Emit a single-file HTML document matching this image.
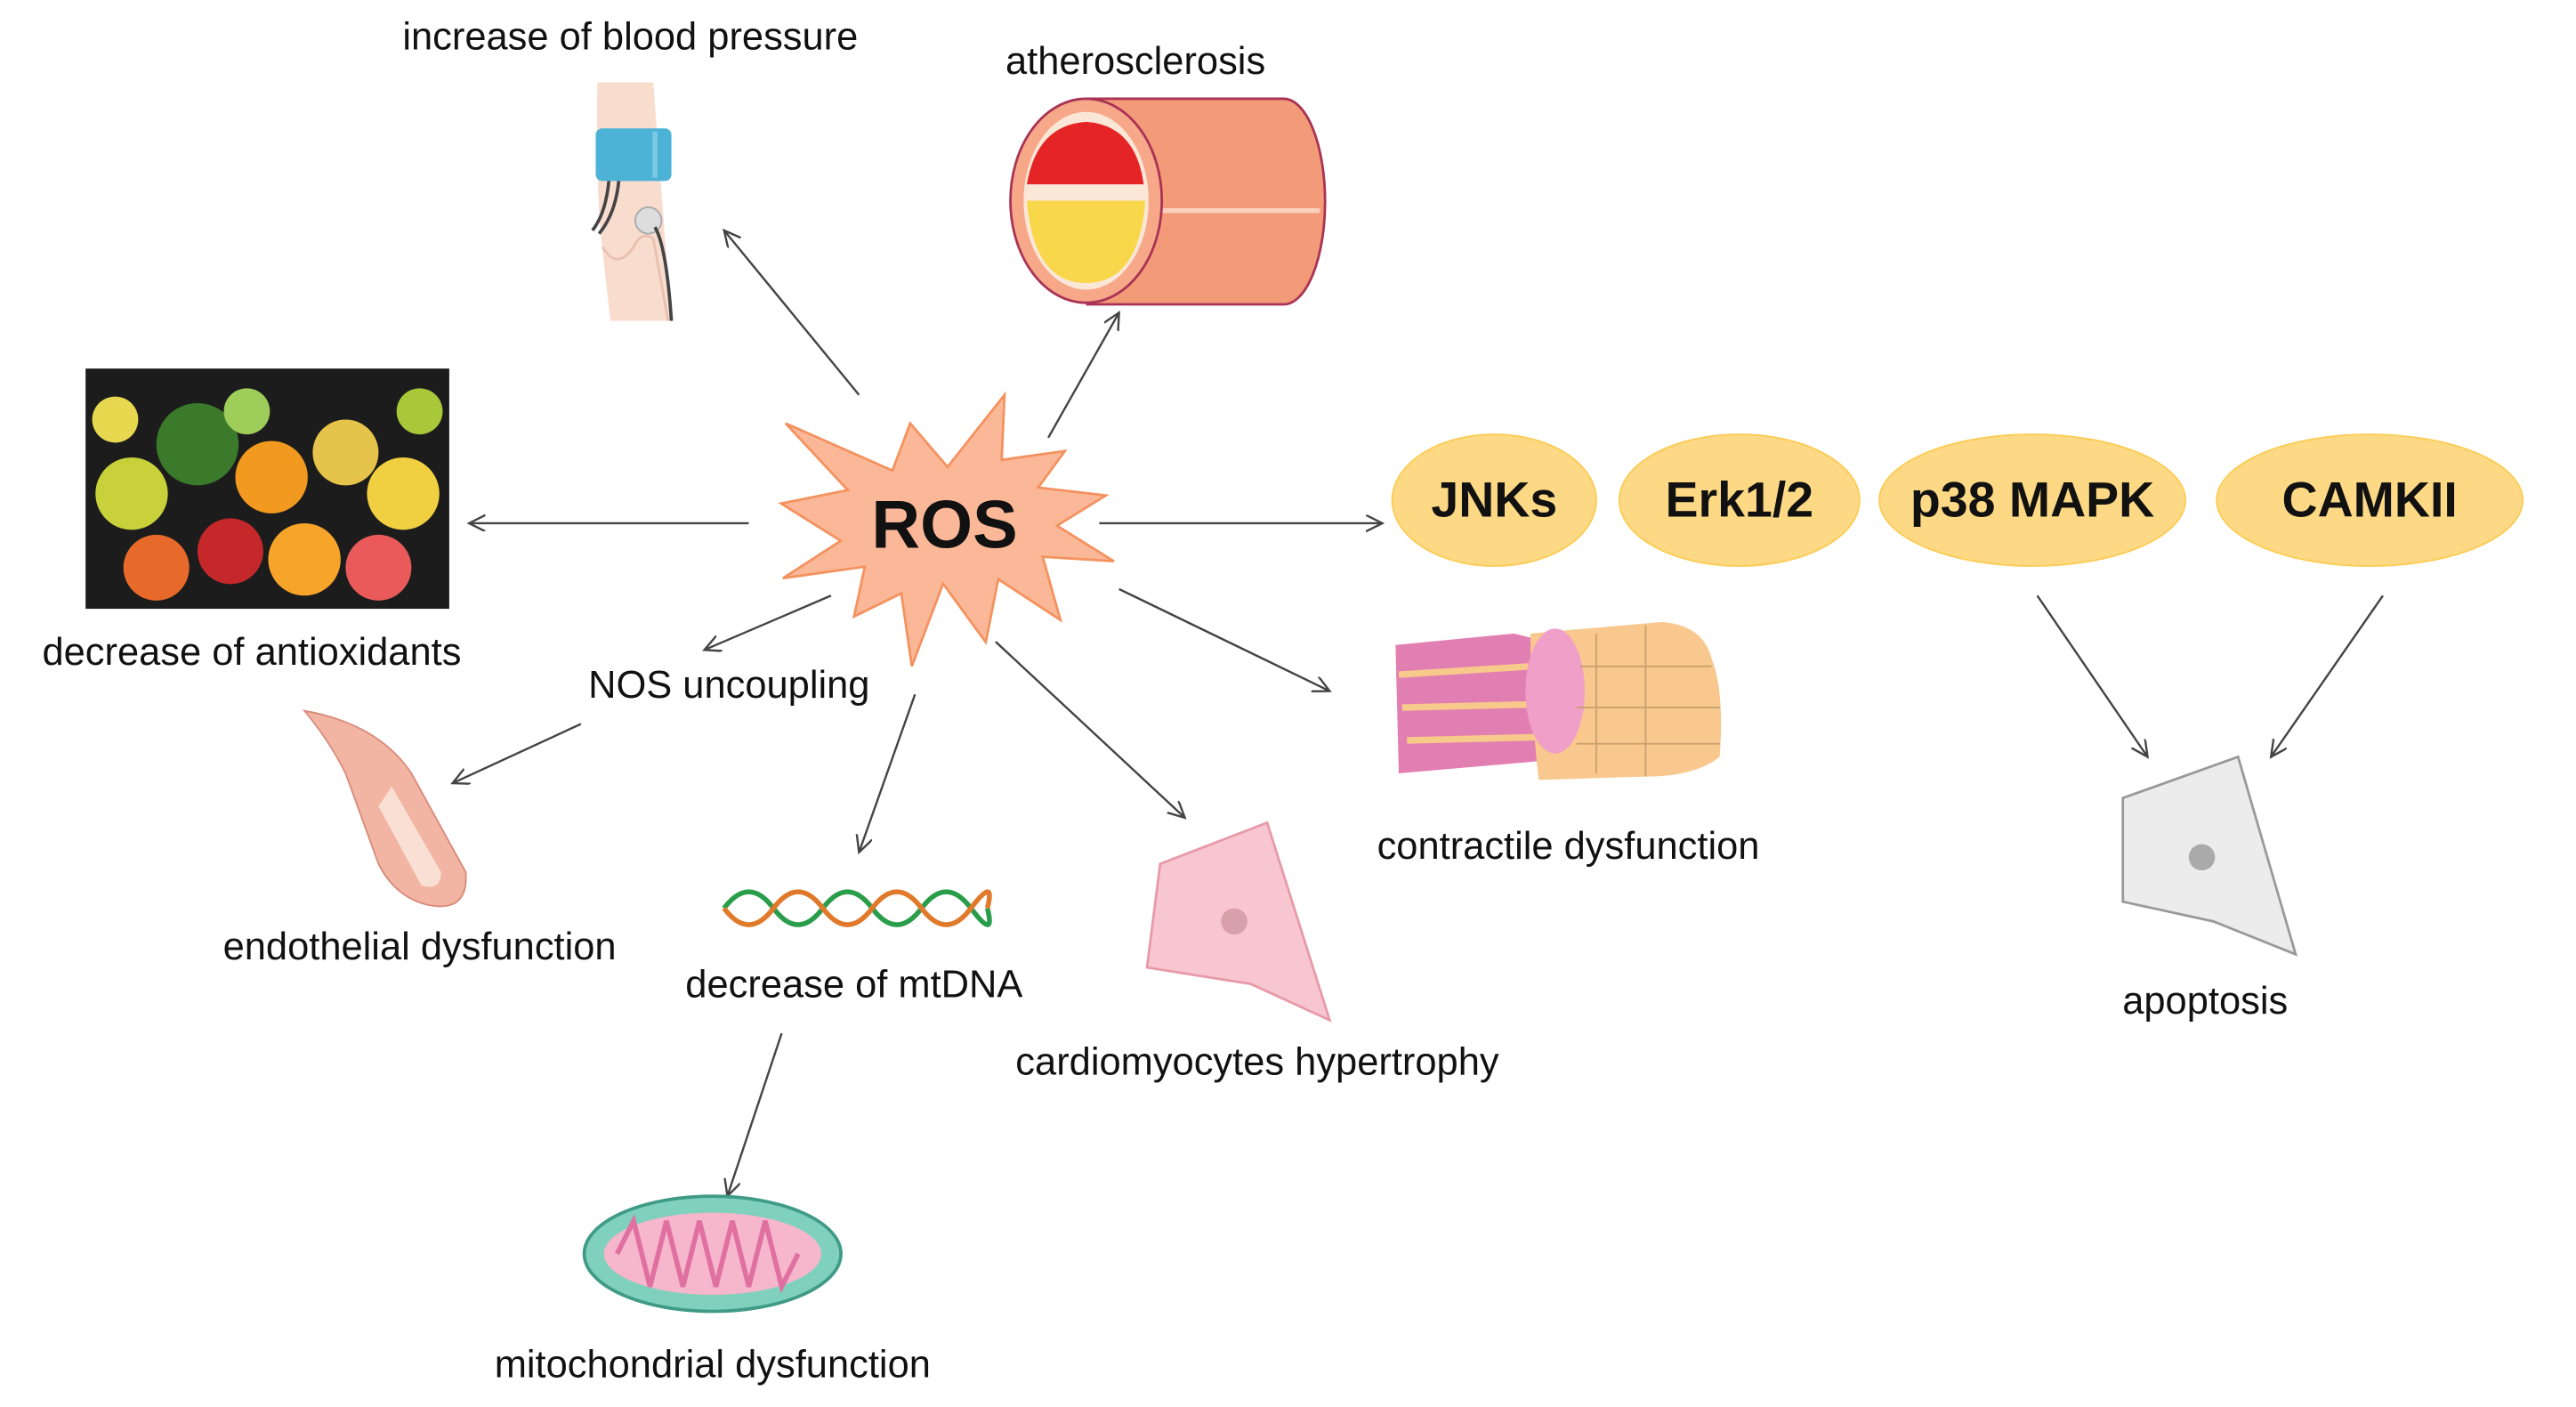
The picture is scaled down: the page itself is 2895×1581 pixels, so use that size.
<!DOCTYPE html>
<html><head><meta charset="utf-8"><style>
html,body{margin:0;padding:0;background:#fff;}
svg{display:block}
text{font-family:"Liberation Sans","DejaVu Sans",sans-serif;fill:#111;}
</style></head><body>
<svg width="2895" height="1581" viewBox="0 0 1545 844" preserveAspectRatio="none" xmlns="http://www.w3.org/2000/svg">
<defs>
<marker id="ah" markerWidth="12" markerHeight="12" refX="10" refY="5" orient="auto" markerUnits="userSpaceOnUse"><path d="M0,0 L10,5 L0,10" fill="none" stroke="#444" stroke-width="1.3"/></marker>
</defs>
<rect width="1545" height="844" fill="#fff"/>
<g transform="scale(0.987)">
<g font-size="23.5" text-anchor="middle">
<text x="383" y="30">increase of blood pressure</text>
<text x="690" y="45">atherosclerosis</text>
<text x="153" y="404">decrease of antioxidants</text>
<text x="443" y="424">NOS uncoupling</text>
<text x="953" y="522">contractile dysfunction</text>
<text x="1340" y="616">apoptosis</text>
<text x="255" y="583">endothelial dysfunction</text>
<text x="519" y="606">decrease of mtDNA</text>
<text x="764" y="653">cardiomyocytes hypertrophy</text>
<text x="433" y="837">mitochondrial dysfunction</text>
</g>
<g stroke="#444" stroke-width="1.3" fill="none" marker-end="url(#ah)">
<line x1="522" y1="240" x2="440" y2="140"/>
<line x1="637" y1="266" x2="680" y2="190"/>
<line x1="455" y1="318" x2="285" y2="318"/>
<line x1="668" y1="318" x2="840" y2="318"/>
<line x1="505" y1="362" x2="428" y2="395"/>
<line x1="353" y1="440" x2="275" y2="476"/>
<line x1="556" y1="422" x2="522" y2="518"/>
<line x1="605" y1="390" x2="720" y2="497"/>
<line x1="680" y1="358" x2="808" y2="420"/>
<line x1="1238" y1="362" x2="1305" y2="460"/>
<line x1="1448" y1="362" x2="1380" y2="460"/>
<line x1="475" y1="628" x2="442" y2="727"/>
</g>
<polygon points="474.7,306 515.2,297.9 477.4,257.3 542.3,286 553.1,257.3 575.8,283.8 610.4,240 608.7,279.5 647.1,274.1 630.9,296.3 672,301.1 642.3,319.5 676.9,341.1 633.6,338.4 644.4,376.8 606.6,352 599,390.3 573.1,354.7 554.1,404.9 547.7,360.6 519,374.7 525.5,344.4 475.8,351.4 510.9,328.7" fill="#fbb898" stroke="#f4925f" stroke-width="1.5"/>
<text x="574" y="333" font-size="41" font-weight="bold" text-anchor="middle">ROS</text>
<g fill="#fdd985" stroke="#fbcc55" stroke-width="1">
<ellipse cx="908" cy="304" rx="62" ry="40"/>
<ellipse cx="1057" cy="304" rx="73" ry="40"/>
<ellipse cx="1235" cy="304" rx="93" ry="40"/>
<ellipse cx="1440" cy="304" rx="93" ry="40"/>
</g>
<g font-size="30" font-weight="bold" text-anchor="middle">
<text x="908" y="314">JNKs</text>
<text x="1057" y="314">Erk1/2</text>
<text x="1235" y="314">p38 MAPK</text>
<text x="1440" y="314">CAMKII</text>
</g>
<!-- blood pressure arm -->
<path d="M363,50 L397,50 Q402,120 408,195 L371,195 Q368,170 366,150 Q362,120 363,50 Z" fill="#f8dccd"/>
<path d="M366,150 Q375,165 385,150 Q390,140 397,145 L406,195" fill="none" stroke="#e8c0b0" stroke-width="1.5"/>
<rect x="362" y="78" width="46" height="32" rx="4" fill="#4db3d6"/>
<line x1="398" y1="80" x2="398" y2="108" stroke="#7ccbe4" stroke-width="3"/>
<circle cx="394" cy="134" r="8" fill="#ddd" stroke="#aaa"/>
<path d="M370,110 Q368,130 360,140 M376,110 Q374,130 364,142 M398,138 Q405,150 408,195" stroke="#444" stroke-width="2" fill="none"/>
<!-- atherosclerosis cylinder -->
<path d="M660,60 L780,60 A25,62 0 0 1 780,185 L660,185 Z" fill="#f39a78"/>
<path d="M660,60 L780,60 A25,62 0 0 1 780,185 L660,185" fill="none" stroke="#a35" stroke-width="1.5"/>
<line x1="690" y1="128" x2="802" y2="128" stroke="#fcd0bf" stroke-width="3"/>
<ellipse cx="660" cy="122" rx="46" ry="62" fill="#f6a889" stroke="#a35" stroke-width="1.5"/>
<ellipse cx="660" cy="122" rx="38" ry="54" fill="#fbe7d8"/>
<path d="M624,112 Q630,76 660,74 Q690,76 695,112 Z" fill="#e52525"/>
<path d="M624,122 Q628,172 660,172 Q692,172 696,122 Z" fill="#f8d74a"/>
<!-- fruits -->
<rect x="52" y="224" width="221" height="146" fill="#1c1c1c"/>
<g>
<circle cx="80" cy="300" r="22" fill="#c8d13a"/><circle cx="120" cy="270" r="25" fill="#3a7a2a"/>
<circle cx="165" cy="290" r="22" fill="#f29a1f"/><circle cx="210" cy="275" r="20" fill="#e6c34a"/>
<circle cx="245" cy="300" r="22" fill="#f0d040"/><circle cx="95" cy="345" r="20" fill="#e86a2a"/>
<circle cx="140" cy="335" r="20" fill="#c4282a"/><circle cx="185" cy="340" r="22" fill="#f6a52a"/>
<circle cx="230" cy="345" r="20" fill="#ea5a5a"/><circle cx="150" cy="250" r="14" fill="#9fcd5a"/>
<circle cx="70" cy="255" r="14" fill="#e8d850"/><circle cx="255" cy="250" r="14" fill="#a8c83a"/>
</g>
<!-- muscle fibers -->
<g>
<path d="M848,392 L920,385 L960,395 L965,460 L850,470 Z" fill="#e27fb2"/>
<path d="M850,410 L930,405 M852,430 L935,428 M855,450 L935,448" stroke="#f7c98a" stroke-width="4"/>
<path d="M930,385 L1010,378 Q1035,380 1040,400 Q1048,420 1045,460 Q1030,472 1000,472 L935,474 Q930,430 930,385 Z" fill="#f9c88e"/>
<ellipse cx="945" cy="420" rx="18" ry="38" fill="#f0a0c8"/>
<path d="M970,385 V470 M1000,380 V472 M960,405 H1040 M958,430 H1045 M958,452 H1045" stroke="#c9a070" stroke-width="1"/>
</g>
<!-- apoptosis cell -->
<polygon points="1290,485 1360,460 1395,580 1345,560 1290,548" fill="#ececec" stroke="#999" stroke-width="1.5"/>
<circle cx="1338" cy="521" r="8" fill="#aaa"/>
<!-- endothelial vessel -->
<path d="M185,432 Q230,440 250,470 L283,530 Q285,555 260,550 Q240,545 230,525 L210,470 Q200,450 185,432 Z" fill="#f2b5a3" stroke="#d98a7a"/>
<path d="M238,478 L268,530 Q268,542 256,538 L230,490 Z" fill="#fadfd4"/>
<!-- DNA -->
<g fill="none" stroke-width="3">
<path d="M440,552 Q455,532 470,552 T500,552 T530,552 T560,552 T590,552 T600,552" stroke="#2a9d4a"/>
<path d="M440,552 Q455,572 470,552 T500,552 T530,552 T560,552 T590,552 T600,552" stroke="#e07a2a"/>
</g>
<!-- pink cell -->
<polygon points="705,525 770,500 808,620 760,598 697,588" fill="#f8c6d0" stroke="#e79aa8" stroke-width="1.5"/>
<circle cx="750" cy="560" r="8" fill="#d8a0aa"/>
<!-- mitochondrion -->
<ellipse cx="433" cy="762" rx="78" ry="35" fill="#7fd1bd" stroke="#3f9a86" stroke-width="2"/>
<ellipse cx="433" cy="762" rx="66" ry="25" fill="#f6b6cc"/>
<path d="M375,762 L385,742 L395,782 L405,742 L415,782 L425,742 L435,782 L445,742 L455,782 L465,742 L475,782 L485,762" fill="none" stroke="#e070a0" stroke-width="3"/>
</g>
</svg>
</body></html>
